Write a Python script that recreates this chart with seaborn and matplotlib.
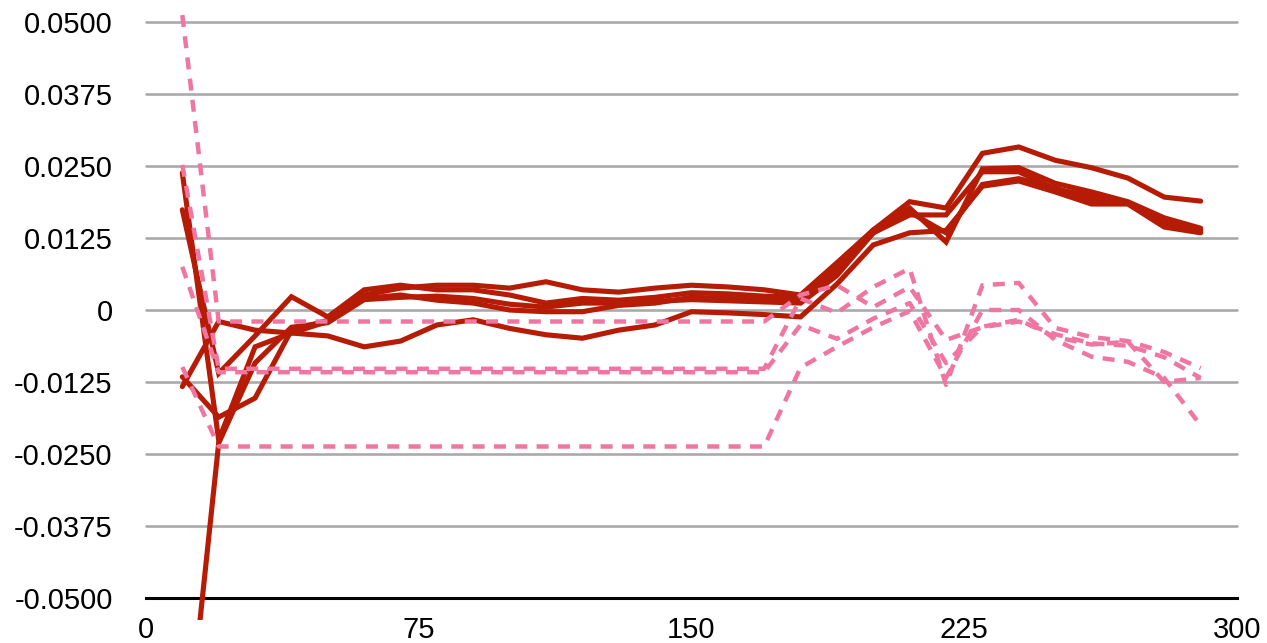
import matplotlib
matplotlib.use("Agg")
import matplotlib.pyplot as plt
from matplotlib.patches import Rectangle
import numpy as np
import pandas as pd
import seaborn as sns

# sample positions
x_vals = [10, 20, 30, 40, 50, 60, 70, 80, 90, 100, 110, 120, 130, 140, 150,
          160, 170, 180, 190, 200, 210, 220, 230, 240, 250, 260, 270, 280, 290]

# solid series
red_1 = [0.0238, -0.0226, -0.0064, -0.0040, -0.0020, 0.0026, 0.0038, 0.0043, 0.0043, 0.0038,
         0.0049, 0.0035, 0.0031, 0.0038, 0.0043, 0.0040, 0.0035, 0.0026, 0.0082, 0.0139,
         0.0188, 0.0177, 0.0272, 0.0283, 0.0260, 0.0247, 0.0229, 0.0196, 0.0189]
red_2 = [0.0174, -0.0110, -0.0045, 0.0023, -0.0012, 0.0035, 0.0043, 0.0035, 0.0035, 0.0026,
         0.0012, 0.0020, 0.0017, 0.0022, 0.0030, 0.0028, 0.0024, 0.0022, 0.0075, 0.0139,
         0.0177, 0.0118, 0.0245, 0.0247, 0.0220, 0.0205, 0.0188, 0.0160, 0.0142]
red_3 = [-0.0116, -0.0186, -0.0153, -0.0035, -0.0018, 0.0020, 0.0026, 0.0017, 0.0012, 0.0000,
         -0.0003, -0.0003, 0.0008, 0.0012, 0.0022, 0.0020, 0.0017, 0.0017, 0.0065, 0.0134,
         0.0165, 0.0165, 0.0240, 0.0240, 0.0210, 0.0198, 0.0185, 0.0150, 0.0138]
red_4 = [-0.0830, -0.0231, -0.0092, -0.0030, -0.0022, 0.0018, 0.0022, 0.0024, 0.0020, 0.0010,
         0.0005, 0.0012, 0.0012, 0.0015, 0.0018, 0.0016, 0.0014, 0.0012, 0.0060, 0.0134,
         0.0170, 0.0134, 0.0218, 0.0228, 0.0212, 0.0190, 0.0186, 0.0155, 0.0140]
red_5 = [-0.0133, -0.0020, -0.0035, -0.0040, -0.0045, -0.0064, -0.0054, -0.0026, -0.0017, -0.0032,
         -0.0043, -0.0049, -0.0035, -0.0026, -0.0003, -0.0005, -0.0008, -0.0012, 0.0045, 0.0113,
         0.0134, 0.0138, 0.0215, 0.0224, 0.0205, 0.0184, 0.0184, 0.0144, 0.0134]

# dashed series
pink_1 = [0.0512, -0.0020, -0.0020, -0.0020, -0.0020, -0.0020, -0.0020, -0.0020, -0.0020, -0.0020,
          -0.0020, -0.0020, -0.0020, -0.0020, -0.0020, -0.0020, -0.0020, 0.0026, 0.0043, 0.0005,
          0.0040, -0.0052, -0.0030, -0.0020, -0.0042, -0.0058, -0.0062, -0.0082, -0.0118]
pink_2 = [0.0252, -0.0102, -0.0102, -0.0102, -0.0102, -0.0102, -0.0102, -0.0102, -0.0102, -0.0102,
          -0.0102, -0.0102, -0.0102, -0.0102, -0.0102, -0.0102, -0.0102, 0.0020, -0.0005, 0.0040,
          0.0072, -0.0130, 0.0043, 0.0047, -0.0031, -0.0047, -0.0054, -0.0073, -0.0101]
pink_3 = [0.0075, -0.0108, -0.0108, -0.0108, -0.0108, -0.0108, -0.0108, -0.0108, -0.0108, -0.0108,
          -0.0108, -0.0108, -0.0108, -0.0108, -0.0108, -0.0108, -0.0108, -0.0026, -0.0050, -0.0015,
          0.0012, -0.0092, -0.0029, -0.0017, -0.0047, -0.0060, -0.0055, -0.0125, -0.0118]
pink_4 = [-0.0099, -0.0237, -0.0237, -0.0237, -0.0237, -0.0237, -0.0237, -0.0237, -0.0237, -0.0237,
          -0.0237, -0.0237, -0.0237, -0.0237, -0.0237, -0.0237, -0.0237, -0.0100, -0.0064, -0.0030,
          -0.0002, -0.0118, 0.0000, 0.0000, -0.0052, -0.0081, -0.0090, -0.0118, -0.0200]

x_ticks = [0, 75, 150, 225, 300]
x_tick_labels = ["0", "75", "150", "225", "300"]
y_ticks = [0.05, 0.0375, 0.025, 0.0125, 0.0, -0.0125, -0.025, -0.0375, -0.05]
y_tick_labels = ["0.0500", "0.0375", "0.0250", "0.0125", "0",
                 "-0.0125", "-0.0250", "-0.0375", "-0.0500"]

RED = "#B51B05"
PINK = "#EE76A0"

sns.set_style("white")
plt.rcParams["font.family"] = ["Liberation Sans", "DejaVu Sans"]

frames = []
for name, vals, kind in [("r1", red_1, "solid"), ("r2", red_2, "solid"), ("r3", red_3, "solid"),
                         ("r4", red_4, "solid"), ("r5", red_5, "solid"),
                         ("p1", pink_1, "dash"), ("p2", pink_2, "dash"),
                         ("p3", pink_3, "dash"), ("p4", pink_4, "dash")]:
    frames.append(pd.DataFrame({"x": x_vals, "y": vals, "series": name, "kind": kind}))
df = pd.concat(frames, ignore_index=True)

fig = plt.figure(figsize=(12.67, 6.43), dpi=100)
ax = fig.add_axes([0.1152, 0.0700, 0.8611, 0.8958])

# horizontal guides
for yv in y_ticks[:-1]:
    ax.axhline(yv, color="#AAAAAA", lw=1.9, zorder=0.5, clip_on=False)

clip_rect = Rectangle((0, -0.0538), 300, 0.11, transform=ax.transData,
                      facecolor="none", edgecolor="none")

for name, grp in df.groupby("series", sort=False):
    kind = grp["kind"].iloc[0]
    n_before = len(ax.lines)
    if kind == "solid":
        sns.lineplot(data=grp, x="x", y="y", ax=ax, color=RED,
                     estimator=None, sort=False, legend=False, zorder=3)
    else:
        sns.lineplot(data=grp, x="x", y="y", ax=ax, color=PINK,
                     estimator=None, sort=False, legend=False, zorder=4)
    for ln in ax.lines[n_before:]:
        if kind == "dash":
            ln.set_linewidth(3.2)
            ln.set_dashes((2.7, 2.1))
            ln.set_dash_capstyle("butt")
        else:
            ln.set_linewidth(3.7)
        ln.set_solid_joinstyle("miter")
        ln.set_clip_on(True)
        ln.set_clip_path(clip_rect)

ax.set_xlim(0, 300)
ax.set_ylim(-0.05, 0.05)
ax.set_xticks(x_ticks)
ax.set_xticklabels(x_tick_labels)
ax.set_yticks(y_ticks)
ax.set_yticklabels(y_tick_labels)
ax.tick_params(axis="both", length=0, labelsize=21, colors="black")
ax.tick_params(axis="y", pad=24)
ax.tick_params(axis="x", pad=13)
ax.set_xlabel("")
ax.set_ylabel("")

for side in ["top", "left", "right"]:
    ax.spines[side].set_visible(False)
ax.spines["bottom"].set_color("black")
ax.spines["bottom"].set_linewidth(2.2)
ax.spines["bottom"].set_zorder(2)

fig.savefig("out.png", dpi=100, facecolor="white")
